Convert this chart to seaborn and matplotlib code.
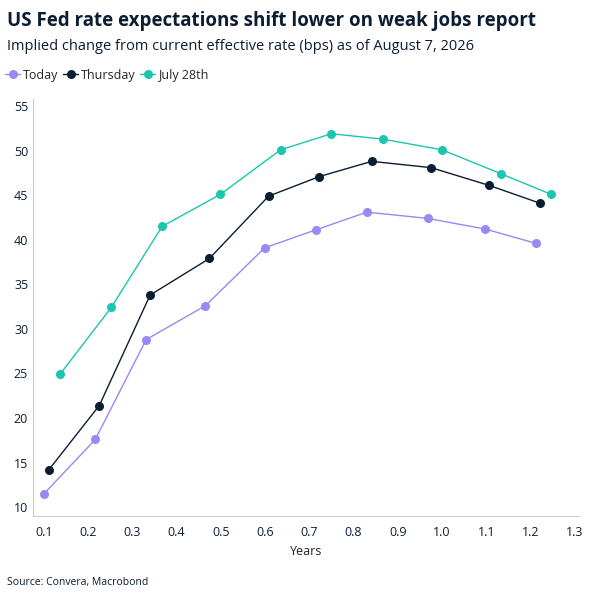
import matplotlib
matplotlib.use("Agg")
import matplotlib.pyplot as plt
import seaborn as sns
import pandas as pd

today_x = [0.100, 0.216, 0.331, 0.465, 0.599, 0.714, 0.830, 0.968, 1.098, 1.213]
today_y = [11.5, 17.6, 28.8, 32.6, 39.1, 41.1, 43.1, 42.4, 41.2, 39.6]
thu_x = [0.111, 0.225, 0.340, 0.474, 0.608, 0.723, 0.841, 0.975, 1.107, 1.222]
thu_y = [14.2, 21.4, 33.8, 37.9, 44.9, 47.1, 48.8, 48.1, 46.1, 44.1]
jul_x = [0.136, 0.252, 0.367, 0.499, 0.635, 0.750, 0.866, 1.000, 1.134, 1.247]
jul_y = [24.9, 32.4, 41.5, 45.1, 50.1, 51.9, 51.3, 50.1, 47.4, 45.1]
series = ["Today", "Thursday", "July 28th"]
colors = ["#9b87f5", "#0b1d33", "#1cc5ad"]

df = pd.concat([
    pd.DataFrame({"x": today_x, "y": today_y, "s": series[0]}),
    pd.DataFrame({"x": thu_x, "y": thu_y, "s": series[1]}),
    pd.DataFrame({"x": jul_x, "y": jul_y, "s": series[2]}),
])

sns.set_style("white")
plt.rcParams["font.family"] = ["Open Sans", "DejaVu Sans"]
fig, ax = plt.subplots(figsize=(6, 6), dpi=100)
fig.subplots_adjust(left=0.055, right=0.965, top=0.835, bottom=0.14)
sns.lineplot(data=df, x="x", y="y", hue="s", palette=colors, marker="o",
             markersize=6.5, markeredgewidth=0, linewidth=1, ax=ax, sort=False)
ax.set_xlim(0.075, 1.31)
ax.set_ylim(9, 55.8)
ax.set_xticks([0.1,0.2,0.3,0.4,0.5,0.6,0.7,0.8,0.9,1.0,1.1,1.2,1.3])
ax.set_xticklabels(["0.1","0.2","0.3","0.4","0.5","0.6","0.7","0.8","0.9","1.0","1.1","1.2","1.3"])
ax.set_yticks(range(10, 56, 5))
ax.tick_params(colors="#0b1d33", labelsize=9, length=4, color="#cccccc")
ax.tick_params(axis="y", length=0)
for s in ["top", "right"]:
    ax.spines[s].set_visible(False)
for s in ["left", "bottom"]:
    ax.spines[s].set_color("#cccccc")
ax.set_xlabel("Years", fontsize=9, color="#222222")
ax.set_ylabel("")
ax.legend(loc="upper left", bbox_to_anchor=(-0.06, 1.085), ncol=3, frameon=False,
          fontsize=9, handlelength=1.2, handletextpad=0.2, columnspacing=0.4,
          borderaxespad=0)
fig.text(0.012, 0.965, "US Fed rate expectations shift lower on weak jobs report",
         fontsize=13.5, fontweight="bold", color="#0b1d33", va="center")
fig.text(0.012, 0.922, "Implied change from current effective rate (bps) as of August 7, 2026",
         fontsize=10.5, color="#0b1d33", va="center")
fig.text(0.012, 0.025, "Source: Convera, Macrobond", fontsize=7.5, color="#0b1d33")
fig.savefig("out.png", dpi=100)
